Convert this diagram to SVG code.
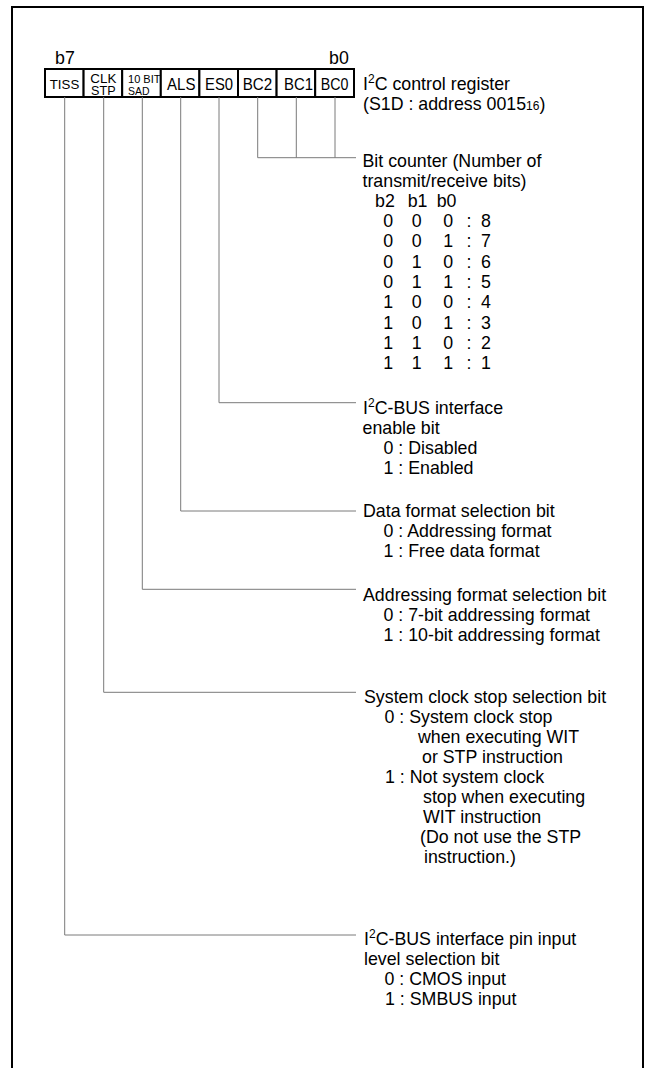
<svg xmlns="http://www.w3.org/2000/svg" width="647" height="1068" viewBox="0 0 647 1068">
<style>
text{font-family:"Liberation Sans",Arial,Helvetica,sans-serif;fill:#000}
.t{font-size:17.8px}
.cl{font-size:17px;text-anchor:middle}
.cs{font-size:13px;text-anchor:middle}
.c2{font-size:12px;text-anchor:middle}
.cx{font-size:11px}
.sup{font-size:12px}
.cell{fill:#fff;stroke:#000;stroke-width:2}
.conn{fill:none;stroke:#7a7a7a;stroke-width:1}
</style>
<rect x="0" y="0" width="647" height="1068" fill="#fff"/>
<path d="M12,1068 V7 H643 V1068" fill="none" stroke="#000" stroke-width="2"/>

<g id="bit-labels">
<text class="t" x="55" y="64">b7</text>
<text class="t" x="329" y="64">b0</text>
</g>

<g id="register">
<rect class="cell" x="45" y="69" width="38.6" height="28"/>
<rect class="cell" x="83.6" y="69" width="38.6" height="28"/>
<rect class="cell" x="122.2" y="69" width="38.6" height="28"/>
<rect class="cell" x="160.8" y="69" width="38.6" height="28"/>
<rect class="cell" x="199.4" y="69" width="38.6" height="28"/>
<rect class="cell" x="238" y="69" width="38.6" height="28"/>
<rect class="cell" x="276.6" y="69" width="38.6" height="28"/>
<rect class="cell" x="315.2" y="69" width="38.8" height="28"/>
<text class="cs" x="64.5" y="88.5" textLength="29.5" lengthAdjust="spacingAndGlyphs">TISS</text>
<text class="c2" x="103.3" y="83" textLength="26" lengthAdjust="spacingAndGlyphs">CLK</text>
<text class="c2" x="103.3" y="95" textLength="24.5" lengthAdjust="spacingAndGlyphs">STP</text>
<text class="cx" x="128" y="83" textLength="32.5" lengthAdjust="spacingAndGlyphs">10 BIT</text>
<text class="cx" x="128" y="95" textLength="21.5" lengthAdjust="spacingAndGlyphs">SAD</text>
<text class="cl" x="181.3" y="89.5" textLength="28.4" lengthAdjust="spacingAndGlyphs">ALS</text>
<text class="cl" x="219" y="89.5" textLength="28" lengthAdjust="spacingAndGlyphs">ES0</text>
<text class="cl" x="257.5" y="89.5" textLength="29.5" lengthAdjust="spacingAndGlyphs">BC2</text>
<text class="cl" x="298.5" y="89.5" textLength="29" lengthAdjust="spacingAndGlyphs">BC1</text>
<text class="cl" x="334.5" y="89.5" textLength="27.7" lengthAdjust="spacingAndGlyphs">BC0</text>
</g>

<g id="register-title">
<text class="t" x="363" y="90">I<tspan class="sup" dy="-7">2</tspan><tspan dy="7">C control register</tspan></text>
<text class="t" x="363" y="110">(S1D : address 0015<tspan class="sup">16</tspan>)</text>
</g>

<g id="connectors">
<path class="conn" d="M257.7,97 V157.7 H356 M296.3,97 V157.7 M335,97 V157.7"/>
<path class="conn" d="M219,97 V402.7 H356"/>
<path class="conn" d="M180.7,97 V511 H356"/>
<path class="conn" d="M142.3,97 V589.3 H356"/>
<path class="conn" d="M103.7,97 V692.3 H356"/>
<path class="conn" d="M64.7,97 V935 H356"/>
</g>

<g id="bit-counter">
<text class="t" x="362.5" y="166.7">Bit counter (Number of</text>
<text class="t" x="362.5" y="186.7">transmit/receive bits)</text>
<text class="t" y="206.7"><tspan x="375">b2</tspan><tspan x="407.7">b1</tspan><tspan x="436.7">b0</tspan></text>
<text class="t" y="227"><tspan x="383.3">0</tspan><tspan x="411.7">0</tspan><tspan x="443.3">0</tspan><tspan x="466.5">:</tspan><tspan x="481">8</tspan></text>
<text class="t" y="247.3"><tspan x="383.3">0</tspan><tspan x="411.7">0</tspan><tspan x="443.3">1</tspan><tspan x="466.5">:</tspan><tspan x="481">7</tspan></text>
<text class="t" y="267.6"><tspan x="383.3">0</tspan><tspan x="411.7">1</tspan><tspan x="443.3">0</tspan><tspan x="466.5">:</tspan><tspan x="481">6</tspan></text>
<text class="t" y="287.9"><tspan x="383.3">0</tspan><tspan x="411.7">1</tspan><tspan x="443.3">1</tspan><tspan x="466.5">:</tspan><tspan x="481">5</tspan></text>
<text class="t" y="308.2"><tspan x="383.3">1</tspan><tspan x="411.7">0</tspan><tspan x="443.3">0</tspan><tspan x="466.5">:</tspan><tspan x="481">4</tspan></text>
<text class="t" y="328.5"><tspan x="383.3">1</tspan><tspan x="411.7">0</tspan><tspan x="443.3">1</tspan><tspan x="466.5">:</tspan><tspan x="481">3</tspan></text>
<text class="t" y="348.8"><tspan x="383.3">1</tspan><tspan x="411.7">1</tspan><tspan x="443.3">0</tspan><tspan x="466.5">:</tspan><tspan x="481">2</tspan></text>
<text class="t" y="369.1"><tspan x="383.3">1</tspan><tspan x="411.7">1</tspan><tspan x="443.3">1</tspan><tspan x="466.5">:</tspan><tspan x="481">1</tspan></text>
</g>

<g id="es0">
<text class="t" x="363" y="414">I<tspan class="sup" dy="-7">2</tspan><tspan dy="7">C-BUS interface</tspan></text>
<text class="t" x="362.5" y="434">enable bit</text>
<text class="t" x="383.5" y="454">0 : Disabled</text>
<text class="t" x="383.5" y="474">1 : Enabled</text>
</g>

<g id="als">
<text class="t" x="363" y="516.7">Data format selection bit</text>
<text class="t" x="383.5" y="536.7">0 : Addressing format</text>
<text class="t" x="383.5" y="556.7">1 : Free data format</text>
</g>

<g id="sad10bit">
<text class="t" x="363" y="600.7">Addressing format selection bit</text>
<text class="t" x="383.5" y="620.7">0 : 7-bit addressing format</text>
<text class="t" x="383.5" y="640.7">1 : 10-bit addressing format</text>
</g>

<g id="clkstp">
<text class="t" x="364" y="702.7">System clock stop selection bit</text>
<text class="t" x="384.5" y="722.7">0 : System clock stop</text>
<text class="t" x="418" y="742.7">when executing WIT</text>
<text class="t" x="422" y="762.7">or STP instruction</text>
<text class="t" x="385" y="782.7">1 : Not system clock</text>
<text class="t" x="423" y="802.7">stop when executing</text>
<text class="t" x="423" y="822.7">WIT instruction</text>
<text class="t" x="420" y="842.7">(Do not use the STP</text>
<text class="t" x="424" y="862.7">instruction.)</text>
</g>

<g id="tiss">
<text class="t" x="364" y="945">I<tspan class="sup" dy="-7">2</tspan><tspan dy="7">C-BUS interface pin input</tspan></text>
<text class="t" x="364" y="965">level selection bit</text>
<text class="t" x="384.5" y="985">0 : CMOS input</text>
<text class="t" x="385" y="1005">1 : SMBUS input</text>
</g>
</svg>
